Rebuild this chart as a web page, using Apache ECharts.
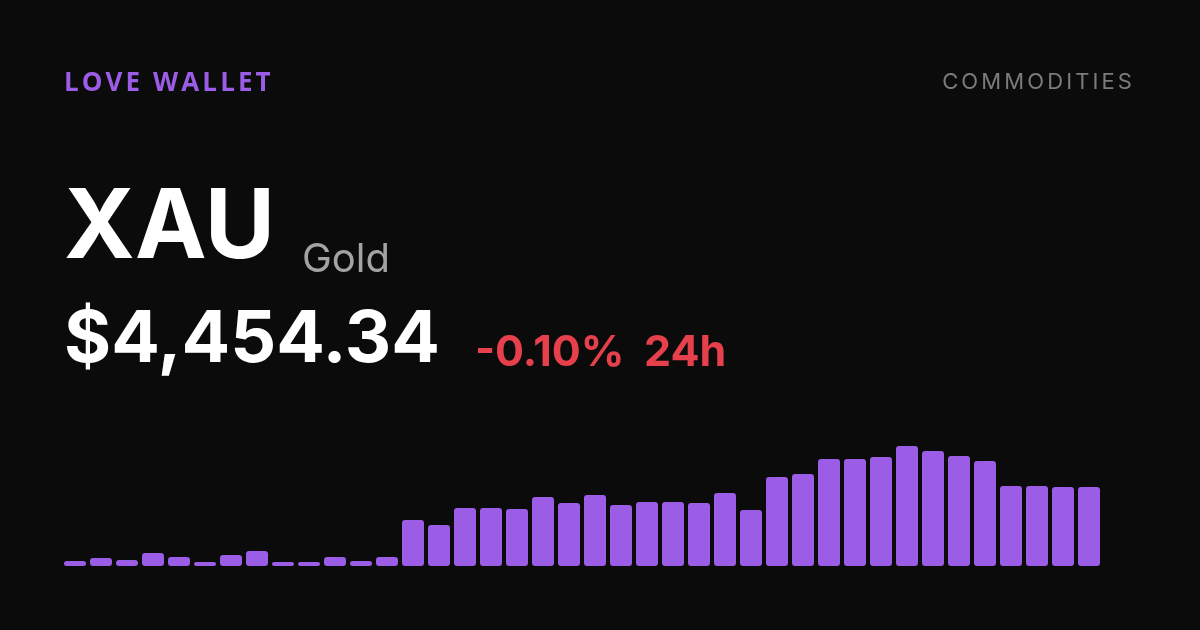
<!DOCTYPE html>
<html>
<head>
<meta charset="utf-8">
<script src="https://cdn.jsdelivr.net/npm/echarts@6/dist/echarts.min.js"></script>
<style>
  html, body { margin: 0; padding: 0; background: #0b0b0b; }
  #wrap { position: relative; width: 1200px; height: 630px; }
  #chart { width: 1200px; height: 630px; }
  .tag { position: absolute; top: 62px; font-size: 26px; line-height: 38px; white-space: nowrap; }
  #brand { left: 64px; color: #9b5de5; font-family: 'Open Sans', sans-serif; font-weight: 700; letter-spacing: 3.1px; }
  #sector { right: 65px; color: #7c7c7c; font-family: Inter, sans-serif; font-weight: 400; font-size: 22px; letter-spacing: 3.1px; }
</style>
</head>
<body>
<div id="wrap">
  <div id="chart"></div>
  <div id="brand" class="tag">LOVE WALLET</div>
  <div id="sector" class="tag">COMMODITIES</div>
</div>
<script>
const symbol = 'XAU';
const assetName = 'Gold';
const priceText = '$4,454.34';
const changeText = '-0.10%';
const periodText = '24h';

// bar heights (relative units)
const days = [];
const heights = [
  5, 8, 6, 13, 9, 4, 11, 15, 4, 4,
  9, 5, 9, 46, 41, 58, 58, 57, 69, 63,
  71, 61, 64, 64, 63, 73, 56, 89, 92, 107,
  107, 109, 120, 115, 110, 105, 80, 80, 79, 79
];
for (let i = 0; i < heights.length; i++) days.push('d' + (i + 1));

const chart = echarts.init(document.getElementById('chart'));

chart.setOption({
  backgroundColor: '#0b0b0b',
  animation: false,
  grid: {
    top: 446,
    left: 62,
    right: 98,
    bottom: 64,
  },
  xAxis: {
    type: 'category',
    data: days,
    show: false,
  },
  yAxis: {
    type: 'value',
    min: 0,
    max: 120,
    show: false,
  },
  series: [
    {
      type: 'bar',
      data: heights,
      barWidth: 22,
      itemStyle: {
        color: '#9b5de5',
        borderRadius: 3,
      },
    },
  ],
  graphic: [
    {
      type: 'text',
      left: 64,
      top: 181,
      style: { text: symbol, fill: '#ffffff', font: '700 96px Inter', },
    },
    {
      type: 'text',
      left: 302,
      top: 240,
      style: { text: assetName, fill: '#a3a3a3', font: '400 40px Inter', },
    },
    {
      type: 'text',
      left: 64,
      top: 304,
      style: { text: priceText, fill: '#ffffff', font: '700 72px Inter', },
    },
    {
      type: 'text',
      left: 475,
      top: 332,
      style: { text: changeText, fill: '#e5404b', font: '700 43px Inter', },
    },
    {
      type: 'text',
      left: 644,
      top: 332,
      style: { text: periodText, fill: '#e5404b', font: '700 43px Inter', },
    },
  ],
});
</script>
</body>
</html>
